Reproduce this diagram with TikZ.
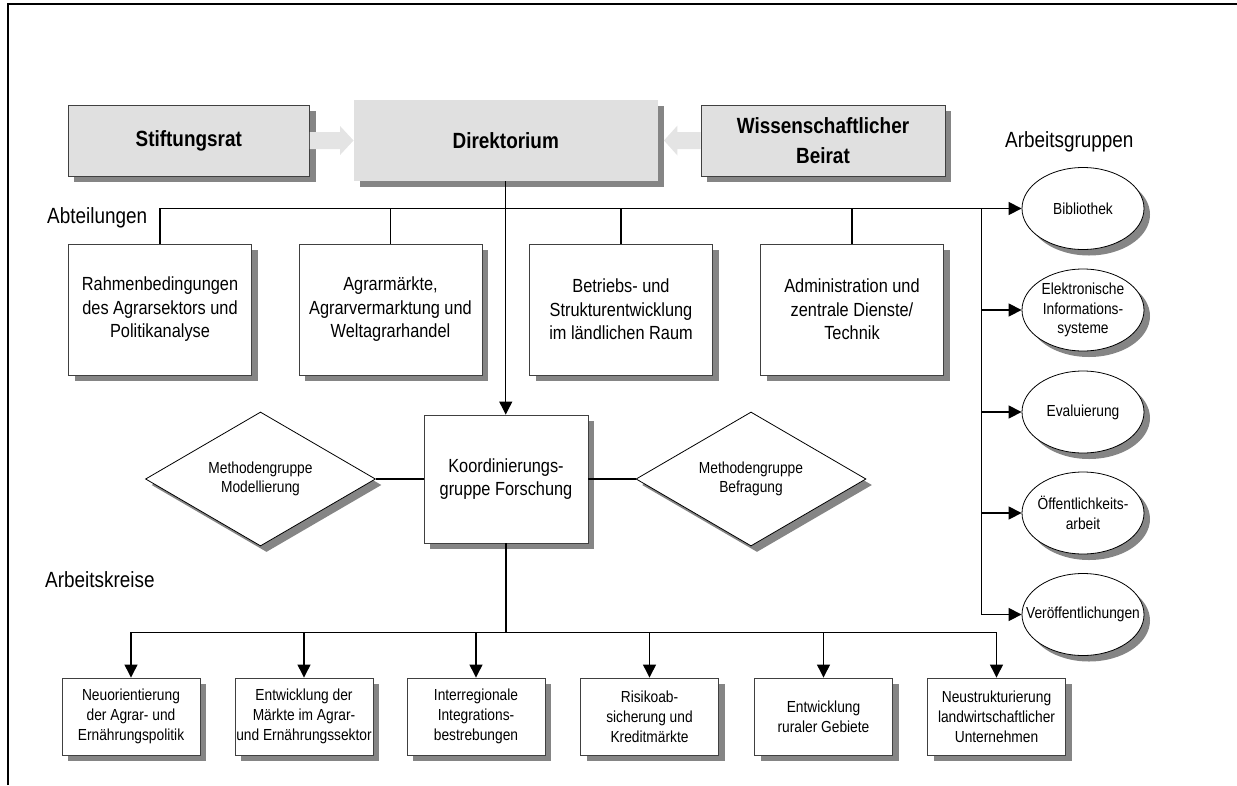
\documentclass[tikz,border=0pt]{standalone}
\usepackage{fontspec}
\setmainfont{Liberation Sans}[FakeStretch=0.86]
\usetikzlibrary{shapes.geometric,shadows,calc,arrows.meta}
\definecolor{boxgray}{HTML}{E0E0E0}
\definecolor{shadowgray}{HTML}{858585}
\definecolor{edgegray}{HTML}{404040}
\definecolor{arrowgray}{HTML}{E4E4E4}
\begin{document}
\begin{tikzpicture}[x=1pt,y=-1pt,
  shadowed/.style={drop shadow={shadow xshift=6pt,shadow yshift=-6pt,fill=shadowgray,opacity=1}},
  topbox/.style={shadowed,fill=boxgray,draw=edgegray,line width=0.9pt,inner sep=0pt,align=center,font=\fontsize{22}{30}\selectfont\bfseries},
  deptbox/.style={shadowed,fill=white,draw=edgegray,line width=0.9pt,minimum width=183pt,minimum height=131pt,inner sep=0pt,align=center,font=\fontsize{19}{23.5}\selectfont},
  akbox/.style={shadowed,fill=white,draw=edgegray,line width=0.9pt,minimum width=138pt,minimum height=77pt,inner sep=0pt,align=center,font=\fontsize{16}{20}\selectfont},
  agell/.style={ellipse,shadowed,fill=white,draw=black,line width=0.8pt,minimum width=122pt,minimum height=82pt,inner sep=0pt},
  methdia/.style={diamond,shadowed,fill=white,draw=black,line width=0.8pt,minimum width=230pt,minimum height=134pt,inner sep=0pt},
  intext/.style={font=\fontsize{16}{19.5}\selectfont,align=center,inner sep=0pt},
  heading/.style={anchor=west,inner sep=0pt,font=\fontsize{22}{26}\selectfont},
  conn/.style={draw=black,line width=1.2pt},
  arr/.style={conn,-{Triangle[length=13pt,width=13pt]}},
  blockarrow/.style={fill=arrowgray}
]
\useasboundingbox (0,0) rectangle (1237,785);
% frame
\draw[line width=2pt] (8,785) -- (8,4) -- (1237,4);

% top row
\node[topbox,minimum width=241.5pt,minimum height=71pt] (stift) at (188.75,140.5) {Stiftungsrat};
\node[topbox,draw=none,minimum width=303.5pt,minimum height=81pt] (dir) at (505.75,140.5) {Direktorium};
\node[topbox,minimum width=244pt,minimum height=71pt] (beirat) at (823,140.5) {Wissenschaftlicher\\Beirat};

% block arrows
\fill[blockarrow] ($(stift.east)+(0,-8.5)$) -- ($(dir.west)+(-13.5,-8.5)$) -- ($(dir.west)+(-13.5,-14.5)$)
  -- (dir.west) -- ($(dir.west)+(-13.5,14.5)$) -- ($(dir.west)+(-13.5,8.5)$) -- ($(stift.east)+(0,8.5)$) -- cycle;
\coordinate (dirR) at ($(dir.east)+(6,0)$);
\fill[blockarrow] ($(beirat.west)+(0,-8.5)$) -- ($(dirR)+(13.5,-8.5)$) -- ($(dirR)+(13.5,-15)$)
  -- (dirR) -- ($(dirR)+(13.5,15)$) -- ($(dirR)+(13.5,8.5)$) -- ($(beirat.west)+(0,8.5)$) -- cycle;

% headings
\node[heading] (habt) at (47,218) {Abteilungen};
\node[heading] (hag) at (1005,142) {Arbeitsgruppen};
\node[heading] (hak) at (45,580) {Arbeitskreise};

% departments
\node[deptbox] (d1) at (160,309.5) {Rahmenbedingungen\\des Agrarsektors und\\Politikanalyse};
\node[deptbox] (d2) at (390.5,309.5) {Agrarmärkte,\\Agrarvermarktung und\\Weltagrarhandel};
\node[deptbox] (d3) at (621,309.5) {Betriebs- und\\Strukturentwicklung\\im ländlichen Raum};
\node[deptbox] (d4) at (852,309.5) {Administration und\\zentrale Dienste/\\Technik};

% coordination
\node[deptbox,minimum width=164pt,minimum height=128pt] (koord) at (506,479) {Koordinierungs-\\gruppe Forschung};
\node[methdia,label={[intext]center:Methodengruppe\\Modellierung}] (modl) at (260.5,479) {};
\node[methdia,label={[intext]center:Methodengruppe\\Befragung}] (befr) at (751,479) {};

% working groups (ellipses)
\node[agell,label={[intext]center:Bibliothek}] (bib) at (1083,208.5) {};
\node[agell,label={[intext]center:Elektronische\\Informations-\\systeme}] (elek) at (1083,310) {};
\node[agell,label={[intext]center:Evaluierung}] (eval) at (1083,412) {};
\node[agell,label={[intext]center:Öffentlichkeits-\\arbeit}] (oeff) at (1083,513) {};
\node[agell,label={[intext]center:Veröffentlichungen}] (ver) at (1083,614.5) {};

% Arbeitskreise
\node[akbox] (ak1) at (131,716.5) {Neuorientierung\\der Agrar- und\\Ernährungspolitik};
\node[akbox] (ak2) at (304,716.5) {Entwicklung der\\Märkte im Agrar-\\und Ernährungssektor};
\node[akbox] (ak3) at (476,716.5) {Interregionale\\Integrations-\\bestrebungen};
\node[akbox] (ak4) at (649.5,716.5) {Risikoab-\\sicherung und\\Kreditmärkte};
\node[akbox] (ak5) at (823.5,716.5) {Entwicklung\\ruraler Gebiete};
\node[akbox] (ak6) at (996.5,716.5) {Neustrukturierung\\landwirtschaftlicher\\Unternehmen};

% connectors: Abteilungen bus
\draw[arr] (d1.north) |- (bib.west);
\draw[conn] (d2.north) -- (d2.north |- bib.west);
\draw[conn] (d3.north) -- (d3.north |- bib.west);
\draw[conn] (d4.north) -- (d4.north |- bib.west);
\draw[arr] (dir.south) -- (dir.south |- koord.north);

% Arbeitsgruppen
\coordinate (agx) at ($(bib.west)+(-40,0)$);
\draw[arr] (agx) |- (ver.west);
\draw[arr] (agx |- elek.west) -- (elek.west);
\draw[arr] (agx |- eval.west) -- (eval.west);
\draw[arr] (agx |- oeff.west) -- (oeff.west);

% methods
\draw[conn] (modl.east) -- (koord.west);
\draw[conn] (koord.east) -- (befr.west);

% Arbeitskreise bus
\coordinate (kbus) at ($(koord.south)+(0,89)$);
\draw[conn] (koord.south) -- (kbus);
\draw[conn,line width=1.6pt] (ak1.north |- kbus) -- (ak6.north |- kbus);
\foreach \n in {ak1,ak2,ak3,ak4,ak5,ak6}{
  \draw[arr] (\n.north |- kbus) -- (\n.north);
}
\end{tikzpicture}
\end{document}
